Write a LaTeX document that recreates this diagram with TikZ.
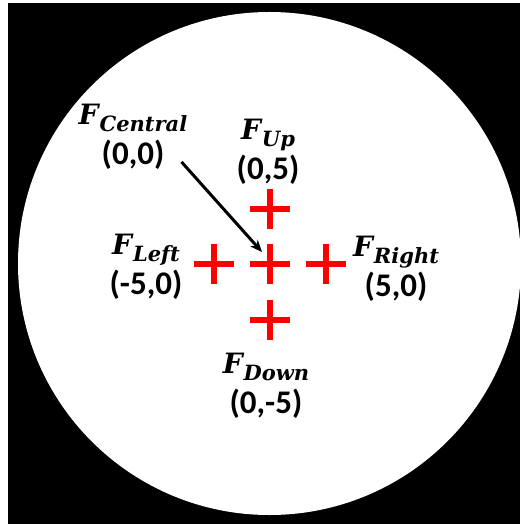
\documentclass[tikz,border=0pt]{standalone}
\usepackage{fontspec}
\setmainfont{Carlito}
\newfontfamily\symfont{DejaVu Serif}
\usetikzlibrary{arrows.meta,positioning}

\newcommand{\fsym}[1]{{\symfont\bfseries\itshape\fontsize{28}{30}\selectfont F\hspace{1pt}\raisebox{-7pt}{\fontsize{21}{22}\selectfont #1}}}

\begin{document}
\begin{tikzpicture}[
  x=1pt, y=-1pt,
  lbl/.style={align=center, inner sep=0pt, font=\fontsize{33}{40}\selectfont\bfseries},
  crossline/.style={draw=red, line width=6pt},
  arr/.style={-{Stealth[length=12pt,width=10pt]}, line width=3pt}
]
\useasboundingbox (0,0) rectangle (520,524);
\fill[white] (0,0) rectangle (520,524);
\fill[black] (8,3) rectangle (520,524);
\fill[white] (269.5,263.5) circle (251.5);

\foreach \nm/\px/\py in {mid/270/264, up/270/209, dn/270/320, lf/214/264, rt/326/264} {
  \coordinate (\nm) at (\px,\py);
  \draw[crossline] ([xshift=-20pt]\nm) -- ([xshift=20pt]\nm)
                   ([yshift=-20pt]\nm) -- ([yshift=20pt]\nm);
}

\node[lbl] (lblCen) at (133,137) {\fsym{Central}\\(0,0)};
\node[lbl] (lblUp) at (268,152) {\fsym{Up}\\(0,5)};
\node[lbl] (lblLeft) at (146,267) {\fsym{Left}\\(-5,0)};
\node[lbl] (lblRight) at (396,269) {\fsym{Right}\\(5,0)};
\node[lbl] (lblDown) at (266,386) {\fsym{Down}\\(0,-5)};

\draw[arr] ([shift={(-6,-8)}]lblCen.south east) -- ([shift={(-8,-12)}]mid);
\end{tikzpicture}
\end{document}
